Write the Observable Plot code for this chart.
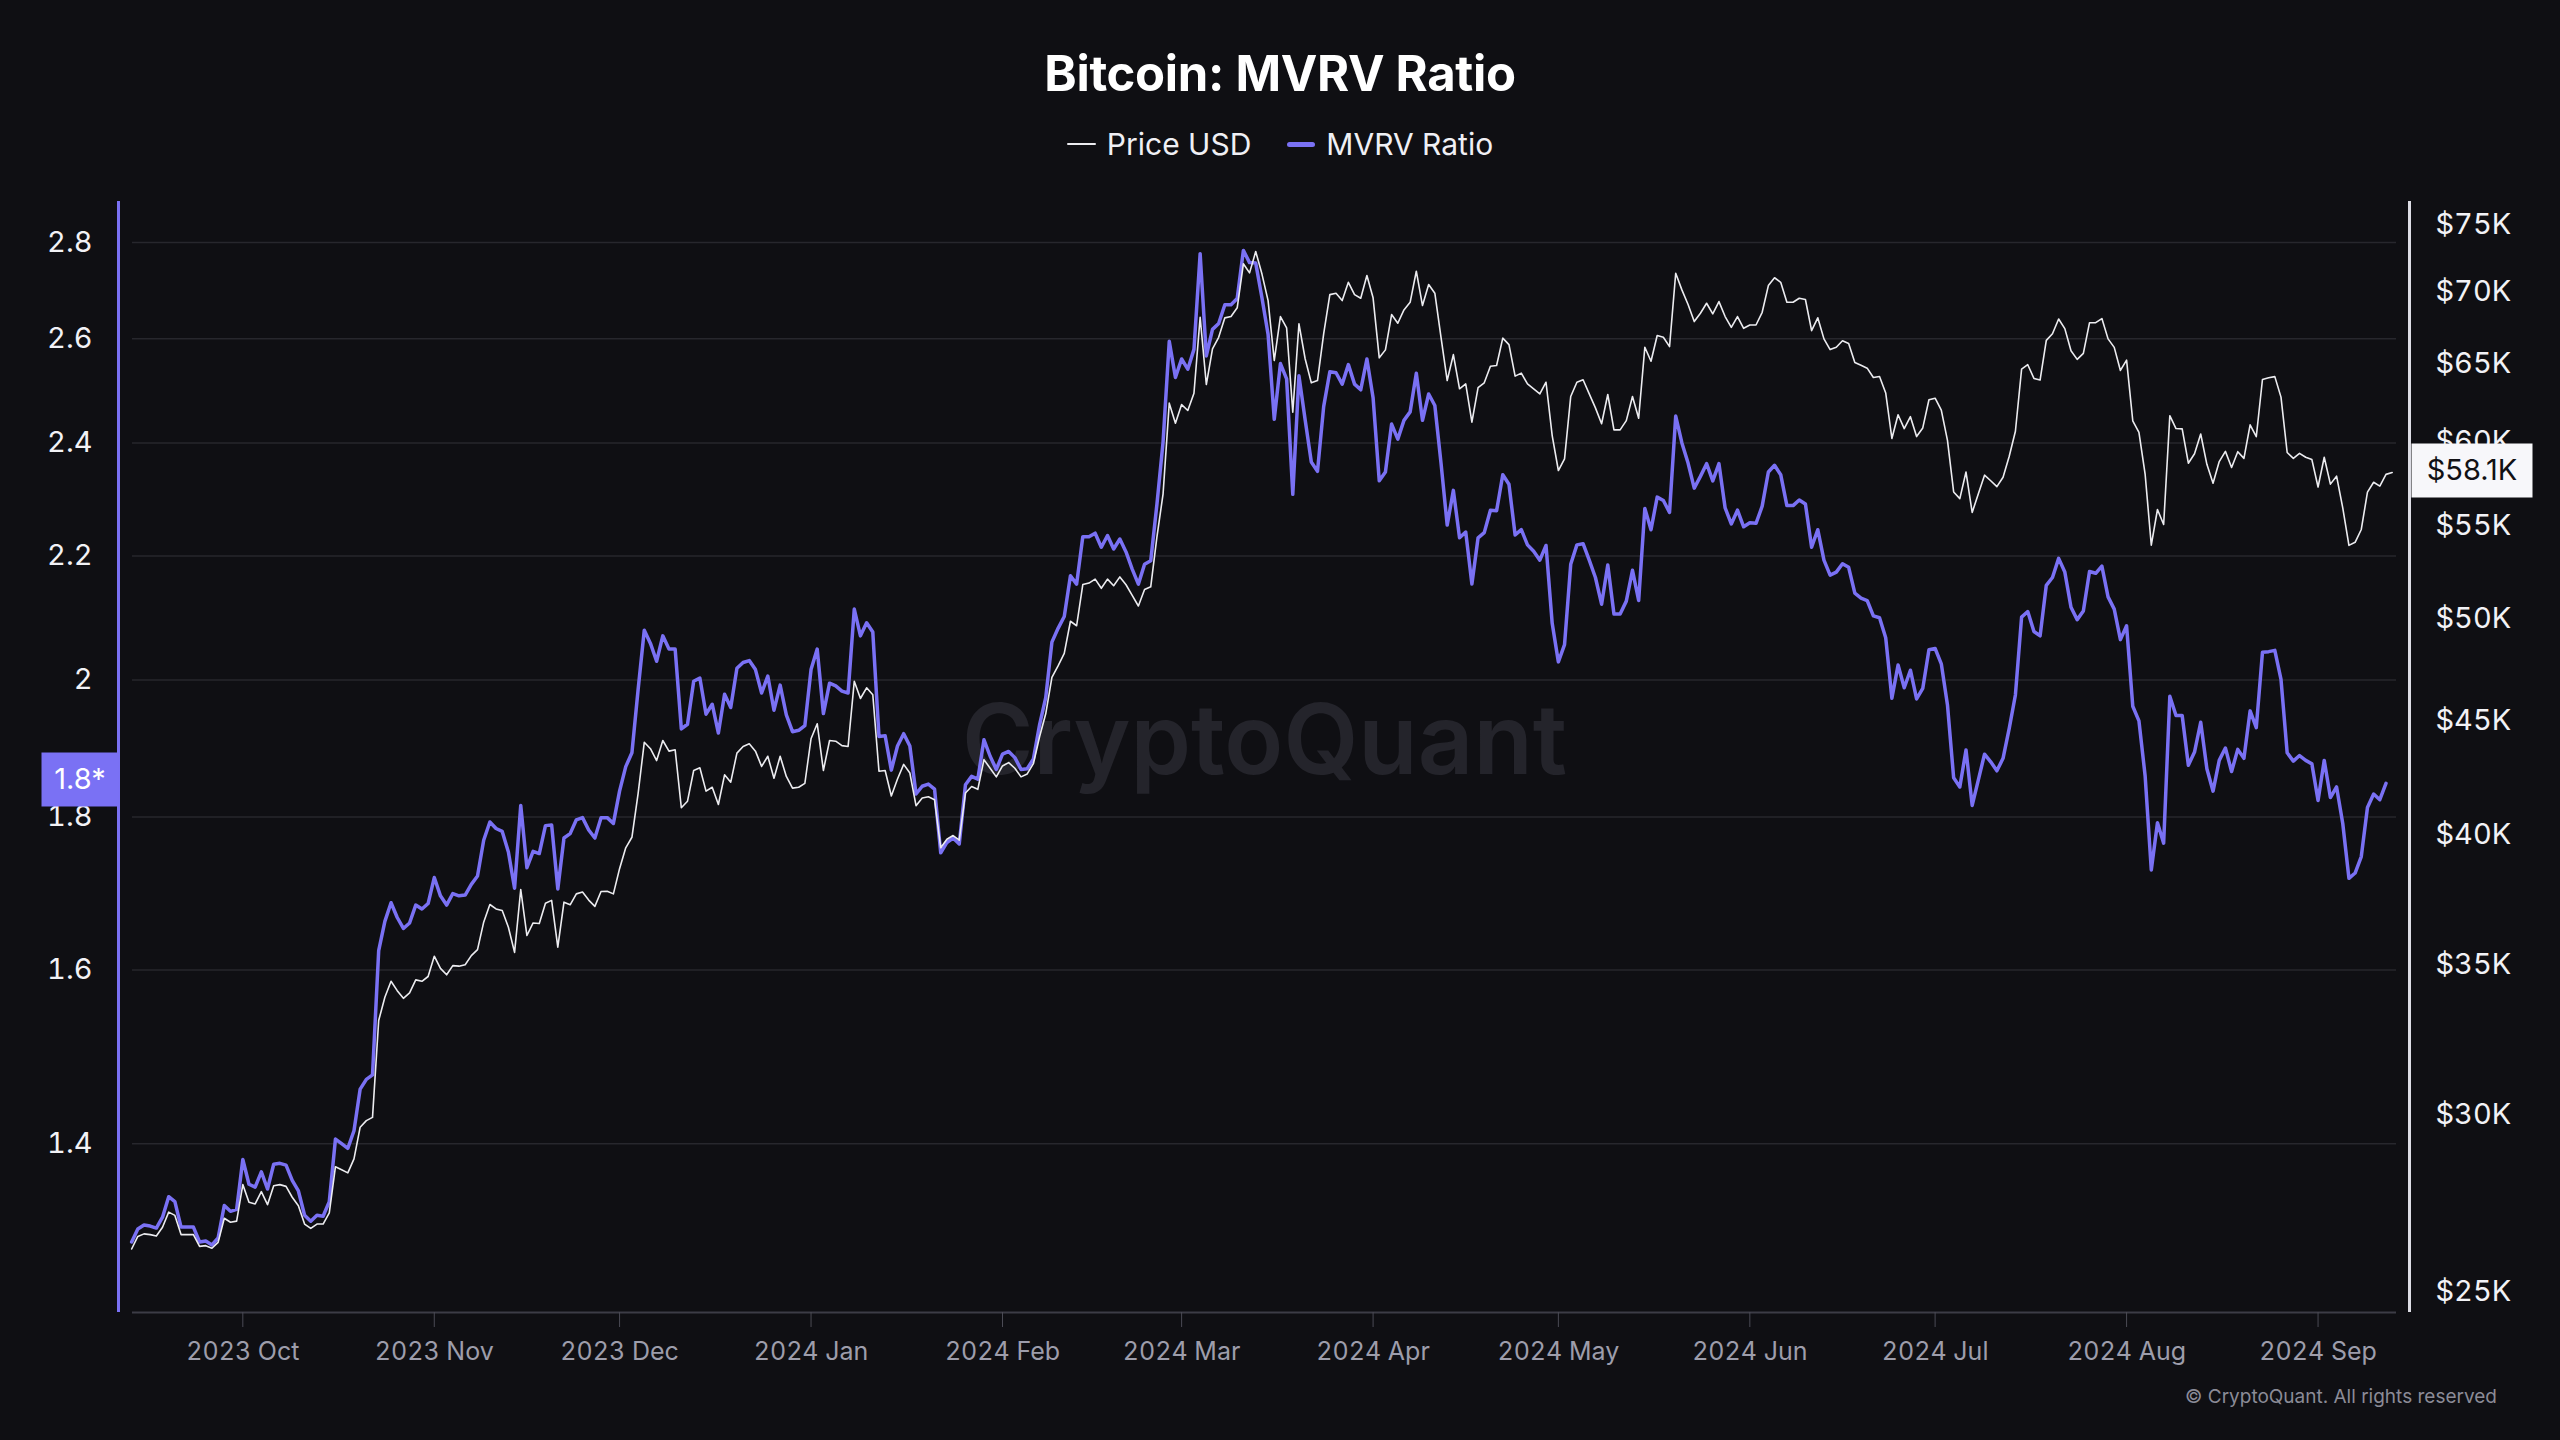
<!DOCTYPE html>
<html>
<head>
<meta charset="utf-8">
<script src="https://cdn.jsdelivr.net/npm/d3@7"></script>
<script src="https://cdn.jsdelivr.net/npm/@observablehq/plot@0.6"></script>
<style>
html, body { margin: 0; padding: 0; background: #0f0f13; }
body { width: 2560px; height: 1440px; position: relative; overflow: hidden; font-family: Inter, "Noto Sans", sans-serif; }
#title { position: absolute; left: 0; width: 2560px; top: 73px; transform: translateY(-50%); text-align: center; color: #ffffff; font-size: 49px; font-weight: 700; letter-spacing: -0.3px; }
#legend { position: absolute; left: 0; width: 2560px; top: 144px; transform: translateY(-50%); display: flex; justify-content: center; align-items: center; color: #f0f0f5; font-size: 30px; }
.item { display: flex; align-items: center; }
.sw { display: inline-block; border-radius: 3px; margin-right: 11px; }
#chart { position: absolute; left: 0; top: 170px; }
#footer { position: absolute; right: 63px; top: 1396px; transform: translateY(-50%); color: #8b8b97; font-size: 19px; }
</style>
</head>
<body>
<div id="title"></div>
<div id="legend"></div>
<div id="chart"></div>
<div id="footer"></div>
<script>
// ---------- data ----------
const titleText = "Bitcoin: MVRV Ratio";
const footerText = "© CryptoQuant. All rights reserved";
const watermarkText = "CryptoQuant";
const seriesNames = ["Price USD", "MVRV Ratio"];
const startDate = "2023-09-13"; // first daily point

// MVRV ratio, daily from 2023-09-13
const mvrv = [
1.298,1.311,1.315,1.314,1.312,1.323,1.344,1.339,1.313,1.313,
1.313,1.298,1.299,1.295,1.302,1.335,1.329,1.331,1.383,1.357,
1.354,1.370,1.352,1.378,1.379,1.377,1.361,1.350,1.325,1.319,
1.325,1.324,1.339,1.405,1.400,1.395,1.414,1.460,1.471,1.476,
1.624,1.661,1.685,1.666,1.652,1.659,1.682,1.677,1.684,1.718,
1.694,1.682,1.697,1.694,1.695,1.709,1.720,
1.768,1.793,1.784,1.780,1.752,1.704,1.816,1.731,1.753,1.750,
1.788,1.789,1.703,1.771,1.777,1.796,1.799,1.782,1.771,1.799,
1.799,1.791,1.836,1.871,1.891,1.985,2.078,2.057,2.029,2.069,
2.048,2.048,1.926,1.933,1.998,2.003,1.948,1.963,1.920,1.978,
1.958,2.018,2.027,2.030,2.016,1.980,2.006,1.954,1.992,1.947,
1.922,1.924,1.931,2.016,2.048,
1.949,1.995,1.991,1.983,1.980,2.112,2.069,2.090,2.075,1.915,
1.916,1.866,1.901,1.919,1.901,1.832,1.843,1.846,1.839,1.751,
1.765,1.771,1.763,1.845,1.857,1.853,1.910,1.886,1.867,1.889,
1.893,1.884,1.867,1.868,1.882,1.932,1.973,2.059,2.081,2.100,
2.167,2.153,2.233,2.233,2.239,2.215,2.235,2.212,2.229,2.207,
2.178,2.153,2.186,2.192,
2.289,2.402,2.595,2.524,2.560,2.540,2.579,2.776,2.566,2.619,
2.631,2.669,2.669,2.682,2.783,2.757,2.756,2.684,2.609,2.444,
2.551,2.521,2.307,2.527,2.443,2.365,2.348,2.468,2.535,2.533,
2.511,2.549,2.511,2.500,2.560,2.485,2.331,2.347,2.435,2.407,
2.442,2.458,2.532,2.442,2.492,2.470,2.363,2.253,2.314,2.231,
2.241,2.153,2.231,2.240,2.279,2.278,
2.342,2.325,2.236,2.245,2.219,2.208,2.193,2.218,2.089,2.028,
2.055,2.186,2.219,2.221,2.193,2.164,2.120,2.185,2.104,2.104,
2.125,2.176,2.126,2.282,2.245,2.302,2.296,2.275,2.450,2.400,
2.363,2.318,2.339,2.362,2.331,2.362,2.283,2.255,2.279,2.250,
2.257,2.256,2.286,2.347,2.359,2.342,2.287,2.287,2.297,2.290,
2.215,2.245,2.193,2.168,2.173,
2.187,2.181,2.138,2.130,2.126,2.101,2.098,2.066,1.972,2.023,
1.988,2.015,1.971,1.987,2.047,2.049,2.025,1.962,1.855,1.842,
1.895,1.816,1.852,1.889,1.878,1.865,1.883,1.927,1.977,2.099,
2.108,2.076,2.069,2.151,2.164,2.196,2.173,2.115,2.095,2.109,
2.174,2.171,2.183,2.132,2.112,2.063,2.085,1.960,1.938,1.858,
1.728,1.792,1.764,1.975,1.946,
1.946,1.873,1.892,1.936,1.868,1.836,1.880,1.898,1.864,1.896,
1.883,1.953,1.928,2.043,2.044,2.046,2.001,1.891,1.879,1.887,
1.880,1.875,1.823,1.880,1.827,1.842,1.791,1.717,1.724,1.746,
1.813,1.832,1.824,1.847
];

// BTC price in thousands of USD, daily from 2023-09-13
const priceK = [
26.12,26.46,26.53,26.51,26.47,26.71,27.13,27.04,26.51,26.51,
26.51,26.19,26.21,26.14,26.30,26.96,26.85,26.88,27.91,27.41,
27.36,27.71,27.34,27.88,27.91,27.86,27.55,27.31,26.80,26.68,
26.80,26.80,27.11,28.43,28.34,28.25,28.66,29.61,29.81,29.91,
33.05,33.85,34.41,34.08,33.81,34.00,34.46,34.41,34.58,35.31,
34.87,34.64,34.97,34.95,35.00,35.33,35.55,
36.57,37.24,37.07,37.01,36.38,35.45,37.82,36.07,36.54,36.52,
37.29,37.40,35.64,37.33,37.23,37.65,37.72,37.41,37.17,37.74,
37.75,37.65,38.64,39.48,39.91,41.74,44.01,43.72,43.19,44.09,
43.61,43.67,41.14,41.42,42.75,42.87,41.85,42.02,41.28,42.56,
42.24,43.52,43.82,43.94,43.61,42.93,43.38,42.41,43.38,42.49,
41.98,42.02,42.19,44.17,44.86,
42.75,44.09,44.06,43.86,43.82,46.86,46.04,46.55,46.22,42.72,
42.75,41.64,42.38,43.02,42.64,41.23,41.56,41.61,41.48,39.48,
39.83,39.98,39.79,41.77,42.05,41.93,43.23,42.85,42.47,42.95,
43.10,42.85,42.47,42.60,43.05,44.26,45.32,47.05,47.61,48.23,
49.85,49.62,51.77,51.85,52.06,51.57,52.06,51.71,52.18,51.76,
51.20,50.64,51.51,51.65,
54.36,56.84,62.40,61.13,62.31,61.93,63.04,68.17,63.61,65.99,
66.78,68.13,68.22,68.84,72.03,71.36,72.94,71.29,69.35,65.20,
68.22,67.43,61.82,67.71,65.32,63.72,63.87,67.02,69.78,69.88,
69.35,70.67,69.78,69.52,71.16,69.55,65.38,65.92,68.36,67.75,
68.69,69.23,71.48,69.00,70.51,69.88,66.78,63.87,65.60,63.33,
63.65,61.19,63.40,63.72,64.82,64.87,
66.72,66.28,64.16,64.36,63.65,63.33,63.00,63.76,60.35,58.22,
58.92,62.83,63.76,63.92,63.00,62.10,61.09,62.96,60.71,60.71,
61.29,62.83,61.44,66.10,65.15,66.90,66.78,66.14,71.33,70.12,
69.07,67.87,68.45,69.16,68.41,69.28,68.22,67.47,68.22,67.40,
67.63,67.63,68.52,70.43,71.00,70.67,69.23,69.23,69.52,69.43,
67.24,68.13,66.67,65.94,66.10,
66.54,66.36,65.07,64.88,64.69,64.07,64.14,63.06,60.17,61.66,
60.79,61.54,60.29,60.83,62.62,62.72,61.96,60.05,56.95,56.56,
58.13,55.76,56.84,57.94,57.61,57.26,57.82,59.08,60.62,64.62,
64.92,64.01,63.91,66.57,67.02,68.05,67.38,65.86,65.28,65.68,
67.79,67.79,68.08,66.67,66.09,64.54,65.23,61.28,60.55,58.01,
53.91,55.93,55.07,61.60,60.79,
60.77,58.66,59.23,60.45,58.59,57.46,58.76,59.38,58.40,59.36,
58.95,61.02,60.28,63.94,64.05,64.13,62.79,59.31,58.95,59.26,
59.02,58.88,57.24,59.02,57.41,57.88,56.02,53.90,54.07,54.79,
56.94,57.52,57.29,57.99,58.10
];

const mvrvTicks = [1.4, 1.6, 1.8, 2, 2.2, 2.4, 2.6, 2.8];
const priceTicksK = [25, 30, 35, 40, 45, 50, 55, 60, 65, 70, 75];
const monthTicks = ["2023-10-01","2023-11-01","2023-12-01","2024-01-01","2024-02-01","2024-03-01",
                    "2024-04-01","2024-05-01","2024-06-01","2024-07-01","2024-08-01","2024-09-01"];
const xRange = ["2023-09-13T03:20:00Z", "2024-09-13T16:50:00Z"];
const mvrvRange = [1.2295, 2.8897];      // left log axis, bottom..top
const priceRangeK = [24.467, 76.80];     // right log axis, bottom..top
const mvrvBadgeText = "1.8*";

// ---------- styles ----------
const PURPLE = "#7a71f4";
const PRICE_COLOR = "#ececf0";

// ---------- header / footer ----------
document.getElementById("title").textContent = titleText;
document.getElementById("footer").textContent = footerText;
const legend = document.getElementById("legend");
legend.innerHTML =
  `<div class="item"><span class="sw" style="width:29px;height:2px;background:${PRICE_COLOR}"></span><span>${seriesNames[0]}</span></div>` +
  `<div class="item" style="margin-left:36px"><span class="sw" style="width:28px;height:5px;background:${PURPLE}"></span><span>${seriesNames[1]}</span></div>`;

// ---------- price -> left-axis equivalent (both log over the same frame) ----------
const lr = Math.log(mvrvRange[1] / mvrvRange[0]);
const lp = Math.log(priceRangeK[1] / priceRangeK[0]);
const priceToM = p => mvrvRange[0] * Math.exp(lr * Math.log(p / priceRangeK[0]) / lp);
const mToPrice = m => priceRangeK[0] * Math.exp(lp * Math.log(m / mvrvRange[0]) / lr);

const start = new Date(startDate + "T00:00:00Z");
const mvrvRows = mvrv.map((v, i) => ({date: d3.utcDay.offset(start, i), v}));
const priceRows = priceK.map((p, i) => ({date: d3.utcDay.offset(start, i), p}));
const xDomain = xRange.map(d => new Date(d));
const lastM = mvrv[mvrv.length - 1];
const lastP = priceK[priceK.length - 1];

const rectSymbol = (w, h) => ({draw(ctx) { ctx.rect(-w / 2, -h / 2, w, h); }});

const chart = Plot.plot({
  width: 2560,
  height: 1205,
  marginLeft: 132,
  marginRight: 164,
  marginTop: 31,
  marginBottom: 63,
  style: {background: "transparent", fontFamily: "Inter, 'Noto Sans', sans-serif", color: "#f2f2f6", overflow: "visible"},
  x: {type: "utc", domain: xDomain, label: null},
  y: {type: "log", domain: mvrvRange, label: null},
  marks: [
    Plot.gridY(mvrvTicks, {stroke: "#27272d", strokeOpacity: 1, strokeWidth: 1.5}),
    Plot.text([watermarkText], {text: d => d, frameAnchor: "middle", dy: -14, fontSize: 97, fontWeight: 600, fill: "#24242b"}),
    Plot.ruleY([mvrvRange[0]], {stroke: "#3c3c46", strokeWidth: 2}),
    Plot.ruleX([xDomain[0]], {dx: -14, stroke: PURPLE, strokeWidth: 3}),
    Plot.ruleX([xDomain[1]], {dx: 13, stroke: "#dcdce4", strokeWidth: 3}),
    Plot.axisX(monthTicks.map(d => new Date(d)), {label: null, tickSize: 15, tickFormat: () => "", color: "#4b4b55"}),
    Plot.axisX(monthTicks.map(d => new Date(d)), {label: null, tickSize: 0, tickPadding: 30, tickFormat: d3.utcFormat("%Y %b"), color: "#9d9dab", fontSize: 25}),
    Plot.axisY(mvrvTicks, {label: null, anchor: "left", tickSize: 0, tickPadding: 40, fontSize: 29, color: "#f2f2f6", tickFormat: d => String(d)}),
    Plot.axisY(priceTicksK.map(priceToM), {label: null, anchor: "right", tickSize: 0, tickPadding: 39, fontSize: 29, color: "#f2f2f6",
      tickFormat: d => "$" + Math.round(mToPrice(d)) + "K"}),
    Plot.lineY(mvrvRows, {x: "date", y: "v", stroke: PURPLE, strokeWidth: 3.5, strokeLinejoin: "round"}),
    Plot.lineY(priceRows, {x: "date", y: d => priceToM(d.p), stroke: PRICE_COLOR, strokeWidth: 1.6, strokeLinejoin: "round"}),
    // last-value badges
    Plot.dot([lastM], {y: d => d, frameAnchor: "left", dx: -52.5, dy: -4, symbol: rectSymbol(77, 54), r: 10, fill: PURPLE, stroke: "none"}),
    Plot.text([lastM], {y: d => d, frameAnchor: "left", dx: -52.5, dy: -4, textAnchor: "middle", text: () => mvrvBadgeText, fill: "#ffffff", fontSize: 29}),
    Plot.dot([lastP], {y: d => priceToM(d), frameAnchor: "right", dx: 75.5, dy: -2, symbol: rectSymbol(121, 54), r: 10, fill: "#f7f7fa", stroke: "none"}),
    Plot.text([lastP], {y: d => priceToM(d), frameAnchor: "right", dx: 75.5, dy: -2, textAnchor: "middle", text: d => "$" + d.toFixed(1) + "K", fill: "#111114", fontSize: 29})
  ]
});
document.getElementById("chart").appendChild(chart);
</script>
</body>
</html>
